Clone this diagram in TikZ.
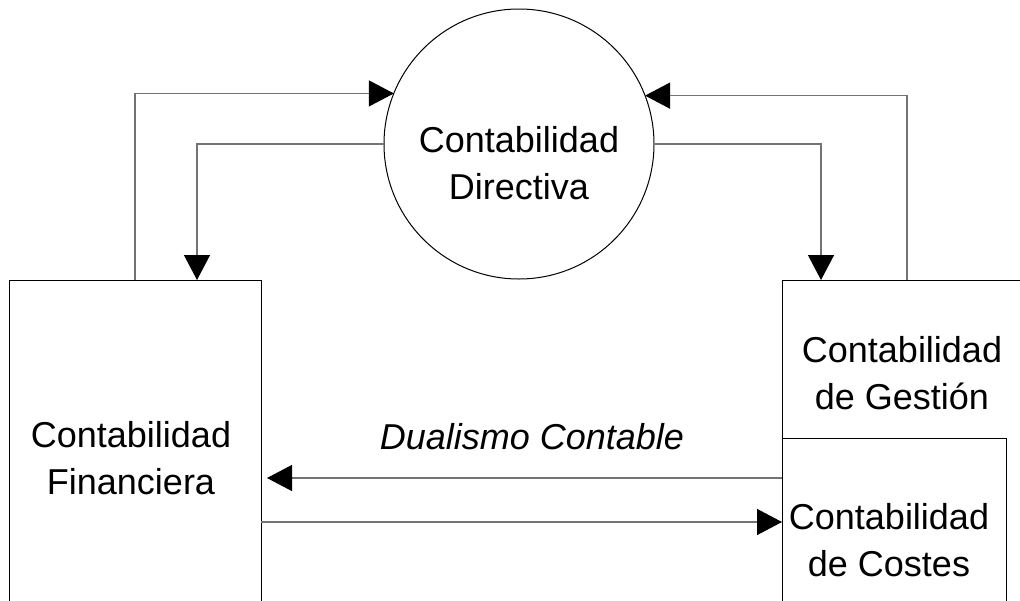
\documentclass[tikz,border=0pt]{standalone}
\usepackage{fontspec}
\setmainfont{Liberation Sans}
\usetikzlibrary{arrows.meta}
\begin{document}
\begin{tikzpicture}[x=1pt,y=-1pt,
  shapebox/.style={draw=black,line width=1pt,rectangle,inner sep=0pt,outer sep=0pt},
  shapecirc/.style={draw=black,line width=1pt,circle,inner sep=0pt,outer sep=0pt,minimum size=270pt},
  conn/.style={draw=black!55,line width=1.3pt,-{Triangle[length=25pt,width=26pt,fill=black,color=black]}},
  lbl/.style={align=center,inner sep=0pt,font=\fontsize{36}{47}\selectfont}]
\clip (0,0) rectangle (1020,600);
\fill[white] (0,0) rectangle (1020,600);
% shapes
\node[shapecirc] (dir) at (519,144) {};
\node[shapebox,minimum width=252pt,minimum height=340pt] (fin) at (135,450) {};
\node[shapebox,minimum width=258pt,minimum height=340pt] (ges) at (911,450) {};
\node[shapebox,minimum width=224pt,minimum height=182pt] (cos) at (894,529) {};
% texts
\node[lbl] (dirT) at (519,163) {Contabilidad\\Directiva};
\node[lbl] (finT) at (131,458) {Contabilidad\\Financiera};
\node[lbl] (gesT) at (902,373) {Contabilidad\\de Gestión};
\node[lbl] (cosT) at (889,540) {Contabilidad\\de Costes};
\node[lbl,font=\fontsize{36}{47}\selectfont\itshape] (dual) at (532,437) {Dualismo Contable};
% connectors
\draw[conn] (fin.north) |- (dir.158.75);
\draw[conn] (dir.west) -| ([xshift=62pt]fin.north);
\draw[conn] ([xshift=-4pt]ges.north) |- (dir.21.25);
\draw[conn] (dir.east) -| ([xshift=-90pt]ges.north);
\draw[conn] ([yshift=-28pt]ges.west) -- ([yshift=-28pt,xshift=6pt]fin.east);
\draw[conn] ([yshift=-72pt]fin.east) -- ([yshift=-72pt]fin.east -| cos.west);
\end{tikzpicture}
\end{document}
